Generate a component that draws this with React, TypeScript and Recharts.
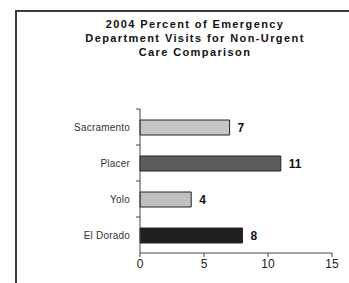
import { BarChart, Bar, XAxis, YAxis, Cell, LabelList } from "recharts";

const counties = ["Sacramento", "Placer", "Yolo", "El Dorado"];
const percents = [7, 11, 4, 8];
const barColors = ["#c6c6c6", "#5c5c5c", "#c0c0c0", "#202020"];
const xTicks = [0, 5, 10, 15];
const titleLines = [
  "2004 Percent of Emergency",
  "Department Visits for Non-Urgent",
  "Care Comparison",
];

const data = counties.map((name, i) => ({ name, value: percents[i] }));

const FONT = "'Liberation Sans', Arial, sans-serif";

export default function App() {
  return (
    <div
      style={{
        position: "fixed",
        left: 0,
        top: 0,
        width: 349,
        height: 283,
        background: "#fff",
        overflow: "hidden",
      }}
    >
      <div
        style={{
          position: "absolute",
          left: 15,
          top: 10,
          width: 334,
          height: 273,
          borderLeft: "2px solid #3a3a3a",
          borderTop: "2px solid #3a3a3a",
        }}
      />
      <div
        style={{
          position: "absolute",
          left: 17,
          top: 17,
          width: 356,
          textAlign: "center",
          fontFamily: FONT,
          fontWeight: "bold",
          fontSize: 11,
          lineHeight: "14px",
          letterSpacing: 1.4,
          color: "#111",
        }}
      >
        {titleLines.map((t) => (
          <div key={t}>{t}</div>
        ))}
      </div>
      <div style={{ position: "absolute", left: 0, top: 0 }}>
        <BarChart
          width={349}
          height={283}
          data={data}
          layout='vertical'
          margin={{ top: 109, right: 17, left: 50, bottom: 0 }}
        >
          <XAxis
            type='number'
            domain={[0, 15]}
            ticks={xTicks}
            height={30}
            stroke='#444'
            tickSize={4}
            tick={{ fontSize: 12, fill: "#222", fontFamily: FONT }}
          />
          <YAxis
            type='category'
            dataKey='name'
            width={90}
            stroke='#444'
            tickSize={4}
            tickMargin={6}
            // ticks sit on the boundaries between categories, not at centres
            tickLine={{ stroke: "#444", transform: "translate(0,-18)" }}
            tick={{ fontSize: 10, fill: "#333", fontFamily: FONT, letterSpacing: 0.2 }}
          />
          <Bar
            dataKey='value'
            barSize={15}
            stroke='#222'
            strokeWidth={1}
            isAnimationActive={false}
          >
            {data.map((d, i) => (
              <Cell key={d.name} fill={barColors[i]} />
            ))}
            <LabelList
              dataKey='value'
              position='right'
              offset={8}
              fontSize={12}
              fontWeight='bold'
              fill='#111'
              fontFamily={FONT}
            />
          </Bar>
        </BarChart>
      </div>
    </div>
  );
}
